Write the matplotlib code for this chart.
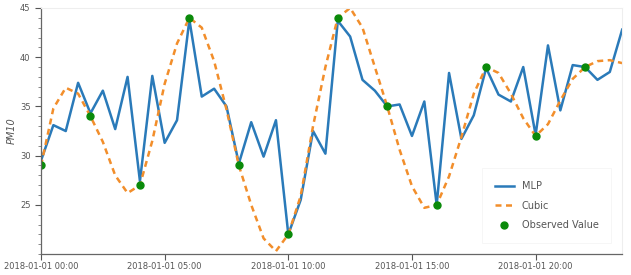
import numpy as np
import pandas as pd
import matplotlib
matplotlib.use("Agg")
import matplotlib.pyplot as plt
import matplotlib.dates as mdates
from matplotlib.ticker import MultipleLocator, FixedLocator

# MLP predictions, every 30 min
mlp = [29.5, 33.1, 32.5, 37.4, 34.3, 36.6, 32.7, 38.0, 27.4, 38.1,
       31.3, 33.6, 43.8, 36.0, 36.8, 35.0, 29.2, 33.4, 29.9, 33.6,
       22.0, 25.5, 32.5, 30.2, 43.7, 42.1, 37.7, 36.6, 35.0, 35.2,
       32.0, 35.5, 25.0, 38.4, 31.7, 34.1, 38.9, 36.2, 35.5, 39.0,
       32.1, 41.2, 34.6, 39.2, 39.0, 37.7, 38.5, 42.8]

# cubic curve, every 30 min
cubic = [29.0, 34.8, 36.9, 36.3, 34.0, 31.4, 28.0, 26.2, 27.0, 31.5,
         37.3, 41.4, 44.0, 43.0, 39.6, 34.7, 29.0, 25.0, 21.6, 20.3,
         22.0, 25.9, 33.0, 39.0, 44.0, 45.0, 43.0, 39.0, 35.0, 30.6,
         26.9, 24.7, 25.0, 27.9, 31.9, 36.3, 39.0, 38.4, 36.3, 33.8,
         32.0, 33.2, 35.6, 37.8, 39.0, 39.6, 39.7, 39.4]

# observed values, every 2 hours
observed = [29, 34, 27, 44, 29, 22, 44, 35, 25, 39, 32, 39]

y_major = [25, 30, 35, 40, 45]

t_half = pd.date_range("2018-01-01 00:00", periods=len(mlp), freq="30min")
t_obs = pd.date_range("2018-01-01 00:00", periods=len(observed), freq="2h")

fig = plt.figure(figsize=(6.31, 2.75), dpi=100)
ax = fig.add_axes([0.065, 0.076, 0.921, 0.895])

ax.plot(t_half, mlp, color="#2a7ab9", lw=1.8, label="MLP")
ax.plot(t_half, cubic, color="#f28e2b", lw=1.8, ls=(0, (2.4, 1.8)), label="Cubic")
ax.plot(t_obs, observed, "o", color="#0a8a0a", ms=5, label="Observed Value")

ax.set_xlim(t_half[0], t_half[-1])
ax.set_ylim(20, 45)

ax.xaxis.set_major_locator(mdates.HourLocator(byhour=range(0, 24, 5)))
ax.xaxis.set_major_formatter(mdates.DateFormatter("%Y-%m-%d %H:%M"))
ax.yaxis.set_major_locator(FixedLocator(y_major))
ax.yaxis.set_minor_locator(MultipleLocator(1))

ax.tick_params(axis="both", colors="#555555", labelsize=6, length=4, width=0.8)
ax.tick_params(axis="y", which="minor", length=2, width=0.6, colors="#777777")
ax.tick_params(axis="x", labelcolor="#555555", pad=2)

for s in ["left", "bottom"]:
    ax.spines[s].set_color("#666666")
    ax.spines[s].set_linewidth(0.9)
for s in ["top", "right"]:
    ax.spines[s].set_color("#eeeeee")

ax.set_ylabel("PM10", fontsize=7, style="italic", color="#555555", labelpad=2)

leg = ax.legend(loc="lower right", fontsize=7, frameon=True, fancybox=False,
                borderpad=1.3, labelspacing=1.0, handlelength=2.0,
                bbox_to_anchor=(0.99, 0.025))
leg.get_frame().set_edgecolor("#f2f2f2")
leg.get_frame().set_linewidth(0.6)
for txt in leg.get_texts():
    txt.set_color("#555555")

fig.savefig("out.png", dpi=100)
